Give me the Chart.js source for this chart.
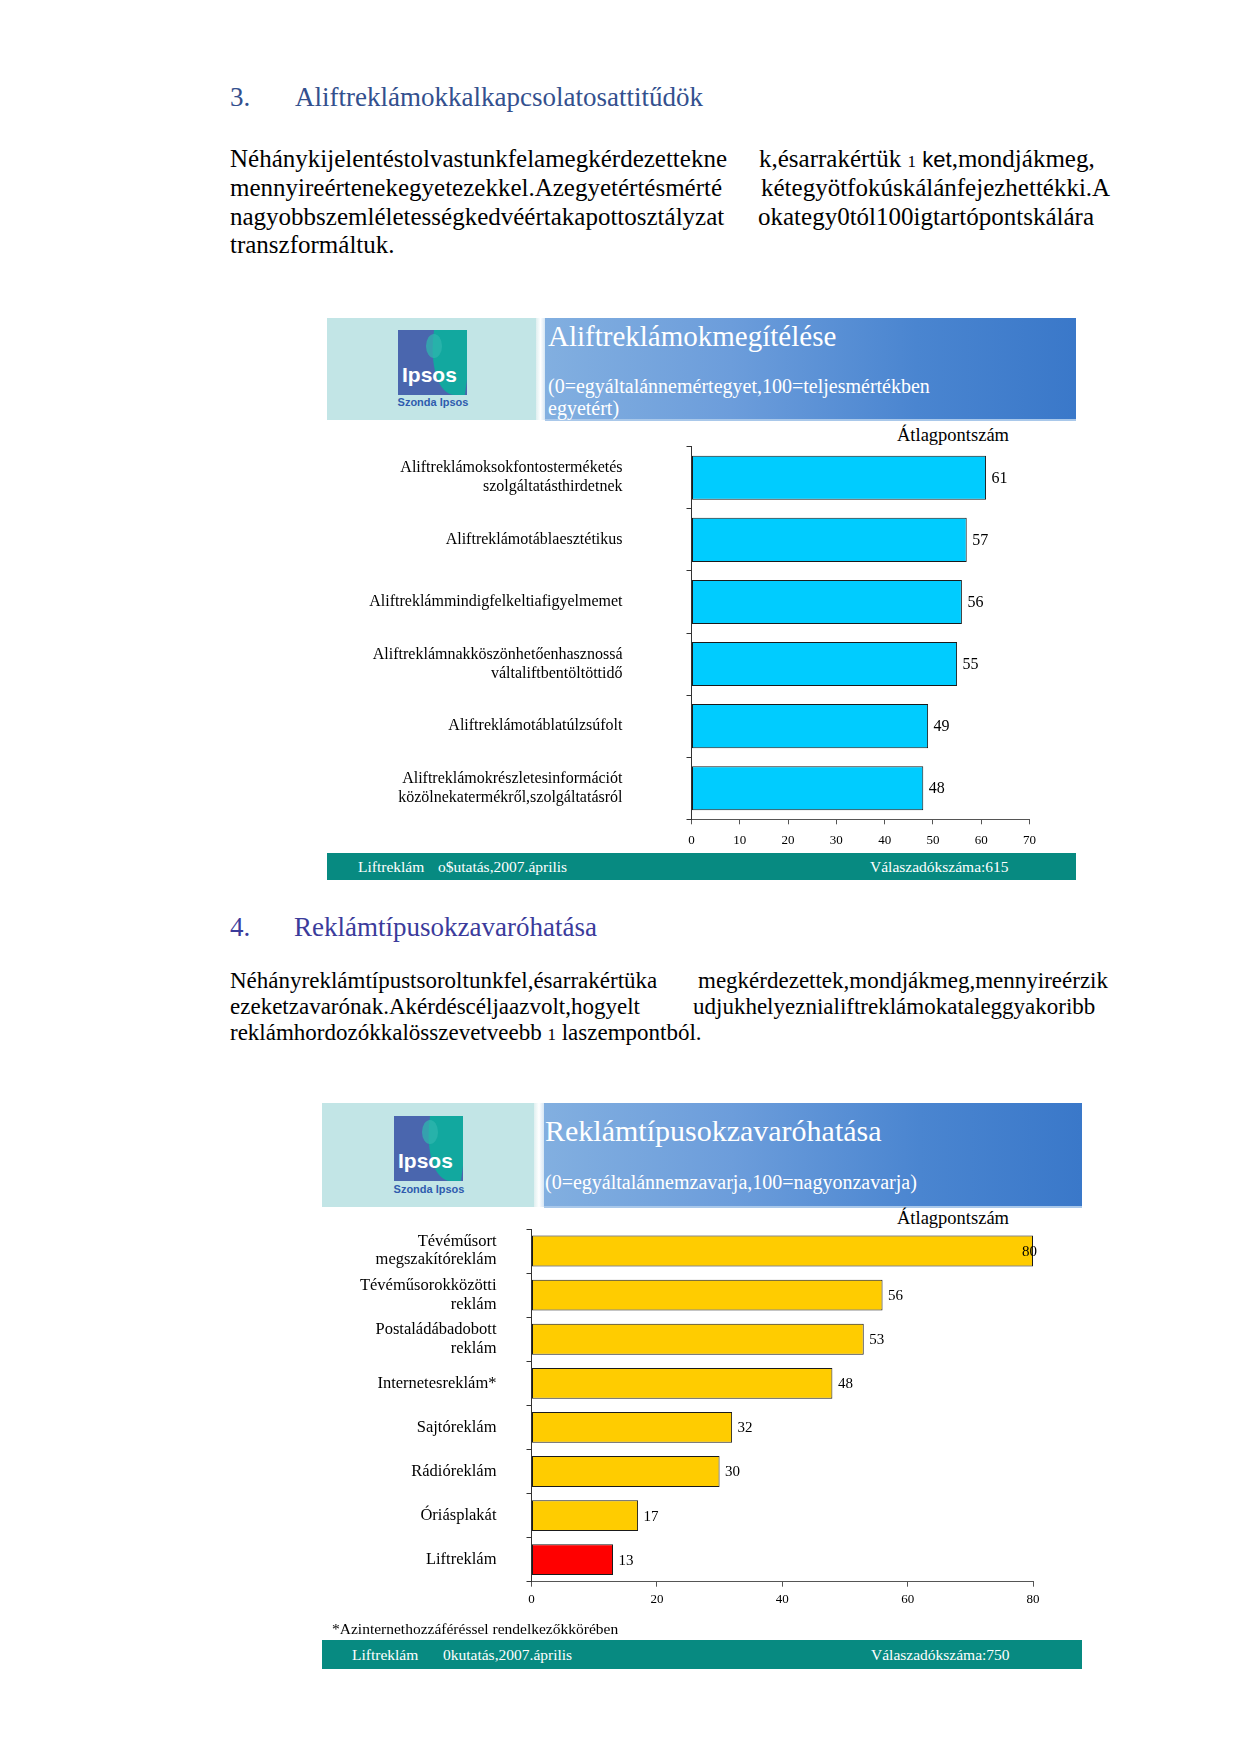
<!DOCTYPE html>
<html lang="hu">
<head>
<meta charset="utf-8">
<title>Liftreklám</title>
<script src="https://cdn.jsdelivr.net/npm/chart.js@4.4.1/dist/chart.umd.min.js"></script>
<style>
  html, body { margin: 0; padding: 0; background: #fff; }
  body { width: 1241px; height: 1754px; position: relative; overflow: hidden;
         font-family: "Liberation Serif", "Times New Roman", serif; color: #000; }
  .abs { position: absolute; white-space: nowrap; }
  .h { font-size: 27px; line-height: 32px; }
  .h1c { color: #33508e; }
  .h2c { color: #3b3b9b; }
  .txt { font-size: 25px; line-height: 28px; }
  .txt2 { font-size: 23px; line-height: 26px; }
  .small1 { font-size: 17px; }
  .sans { font-family: "Liberation Sans", Arial, sans-serif; font-size: 22px; }
  .logoPanel { background: #c2e5e6; }
  .bluePanel { background: linear-gradient(to right, #82afe0 0%, #6c9ddb 35%, #4a85d0 70%, #3a78c9 100%);
               border-bottom: 2px solid #a9c8ea; box-sizing: border-box; }
  .sep { background: linear-gradient(to right, #dfeff0, #ffffff, #d6e6f4); }
  .ttl { color: #fff; }
  .logo { position: absolute; width: 69px; height: 65px; overflow: hidden; background: #4a66ae; }
  .logo .teal { position: absolute; left: 36px; top: 0; width: 40px; height: 65px; background: #12a89f;
                border-bottom-left-radius: 30px 65px; transform: skewX(-8deg); transform-origin: top left; }
  .logo .head { position: absolute; left: 28px; top: 4px; width: 16px; height: 24px; border-radius: 50%;
                background: #2fb6ad; opacity: .75; }
  .logo .word { position: absolute; left: 4px; top: 33px; color: #fff; font: bold 21px "Liberation Sans", Arial, sans-serif; }
  .lsub { position: absolute; color: #2f5cae; font: bold 11px "Liberation Sans", Arial, sans-serif; width: 76px; text-align: center; }
  .foot { background: #078a81; }
  .ftxt { color: #fff; font-size: 15.5px; line-height: 22px; }
  canvas { position: absolute; }
</style>
</head>
<body>

<!-- section 3 -->
<div class="abs h h1c" style="left:230px;top:81px">3.</div>
<div class="abs h h1c" style="left:295px;top:81px">Aliftreklámokkalkapcsolatosattitűdök</div>

<div class="abs txt" style="left:230px;top:145px">Néhánykijelentéstolvastunkfelamegkérdezettekne</div>
<div class="abs txt" style="left:759px;top:145px">k,ésarrakértük <span class="small1">1</span> <span class="sans">ket</span>,mondjákmeg,</div>
<div class="abs txt" style="left:230px;top:174px">mennyireértenekegyetezekkel.Azegyetértésmérté</div>
<div class="abs txt" style="left:761px;top:174px">kétegyötfokúskálánfejezhettékki.A</div>
<div class="abs txt" style="left:230px;top:203px">nagyobbszemléletességkedvéértakapottosztályzat</div>
<div class="abs txt" style="left:758px;top:203px">okategy0tól100igtartópontskálára</div>
<div class="abs txt" style="left:230px;top:231px">transzformáltuk.</div>

<!-- chart 1 frame -->
<div class="abs logoPanel" style="left:327px;top:318px;width:209px;height:102px"></div>
<div class="abs sep" style="left:536px;top:318px;width:9px;height:102px"></div>
<div class="abs bluePanel" style="left:545px;top:318px;width:531px;height:103px"></div>
<div class="logo" style="left:398px;top:330px"><div class="teal"></div><div class="head"></div><div class="word">Ipsos</div></div>
<div class="lsub" style="left:395px;top:396px">Szonda Ipsos</div>
<div class="abs ttl" style="left:548px;top:318px;font-size:29px;line-height:36px">Aliftreklámokmegítélése</div>
<div class="abs ttl" style="left:548px;top:375px;font-size:20px;line-height:22px">(0=egyáltalánnemértegyet,100=teljesmértékben</div>
<div class="abs ttl" style="left:548px;top:397px;font-size:20px;line-height:22px">egyetért)</div>
<div class="abs" style="left:897px;top:424px;font-size:18.5px;line-height:22px">Átlagpontszám</div>

<canvas id="chart1" width="740" height="420" style="left:330px;top:436px;width:740px;height:420px"></canvas>

<div class="abs foot" style="left:327px;top:853px;width:749px;height:27px"></div>
<div class="abs ftxt" style="left:358px;top:856px">Liftreklám</div>
<div class="abs ftxt" style="left:438px;top:856px">o$utatás,2007.április</div>
<div class="abs ftxt" style="left:870px;top:856px">Válaszadókszáma:615</div>

<!-- section 4 -->
<div class="abs h h2c" style="left:230px;top:911px">4.</div>
<div class="abs h h2c" style="left:294px;top:911px">Reklámtípusokzavaróhatása</div>

<div class="abs txt2" style="left:230px;top:968px">Néhányreklámtípustsoroltunkfel,ésarrakértüka</div>
<div class="abs txt2" style="left:698px;top:968px">megkérdezettek,mondjákmeg,mennyireérzik</div>
<div class="abs txt2" style="left:230px;top:994px">ezeketzavarónak.Akérdéscéljaazvolt,hogyelt</div>
<div class="abs txt2" style="left:693px;top:994px">udjukhelyeznialiftreklámokataleggyakoribb</div>
<div class="abs txt2" style="left:230px;top:1020px">reklámhordozókkalösszevetveebb <span class="small1">1</span> laszempontból.</div>

<!-- chart 2 frame -->
<div class="abs logoPanel" style="left:322px;top:1103px;width:212px;height:104px"></div>
<div class="abs sep" style="left:534px;top:1103px;width:10px;height:104px"></div>
<div class="abs bluePanel" style="left:544px;top:1103px;width:538px;height:105px"></div>
<div class="logo" style="left:394px;top:1116px"><div class="teal"></div><div class="head"></div><div class="word">Ipsos</div></div>
<div class="lsub" style="left:391px;top:1183px">Szonda Ipsos</div>
<div class="abs ttl" style="left:545px;top:1113px;font-size:30px;line-height:36px">Reklámtípusokzavaróhatása</div>
<div class="abs ttl" style="left:545px;top:1170px;font-size:20px;line-height:24px">(0=egyáltalánnemzavarja,100=nagyonzavarja)</div>
<div class="abs" style="left:897px;top:1207px;font-size:18.5px;line-height:22px">Átlagpontszám</div>

<canvas id="chart2" width="760" height="410" style="left:325px;top:1215px;width:760px;height:410px"></canvas>

<div class="abs" style="left:332px;top:1619px;font-size:15.5px;line-height:20px">*Azinternethozzáféréssel rendelkezőkkörében</div>
<div class="abs foot" style="left:322px;top:1640px;width:760px;height:29px"></div>
<div class="abs ftxt" style="left:352px;top:1644px">Liftreklám</div>
<div class="abs ftxt" style="left:443px;top:1644px">0kutatás,2007.április</div>
<div class="abs ftxt" style="left:871px;top:1644px">Válaszadókszáma:750</div>

<script>
// chart 1: A liftreklámok megítélése
var statements = [
    ["Aliftreklámoksokfontosterméketés", "szolgáltatásthirdetnek"],
    "Aliftreklámotáblaesztétikus",
    "Aliftreklámmindigfelkeltiafigyelmemet",
    ["Aliftreklámnakköszönhetőenhasznossá", "váltaliftbentöltöttidő"],
    "Aliftreklámotáblatúlzsúfolt",
    ["Aliftreklámokrészletesinformációt", "közölnekatermékről,szolgáltatásról"]
];
var statementScores = [61, 57, 56, 55, 49, 48];
var ticks1 = [0, 10, 20, 30, 40, 50, 60, 70];

// chart 2: Reklámtípusok zavaró hatása
var adTypes = [
    ["Tévéműsort", "megszakítóreklám"],
    ["Tévéműsorokközötti", "reklám"],
    ["Postaládábadobott", "reklám"],
    "Internetesreklám*",
    "Sajtóreklám",
    "Rádióreklám",
    "Óriásplakát",
    "Liftreklám"
];
var adScores = [80, 56, 53, 48, 32, 30, 17, 13];
var ticks2 = [0, 20, 40, 60, 80];
var highlighted = "Liftreklám";

var serif = "'Liberation Serif', 'Times New Roman', serif";

// value labels next to the bar ends, kept near the plot area
var valueLabels = {
    id: 'valueLabels',
    afterDatasetsDraw: function(chart, args, opts) {
        var ctx = chart.ctx;
        var area = chart.chartArea;
        ctx.save();
        ctx.font = opts.size + "px " + serif;
        ctx.fillStyle = '#000';
        ctx.textBaseline = 'middle';
        ctx.textAlign = 'left';
        chart.getDatasetMeta(0).data.forEach(function(bar, i) {
            var text = String(chart.data.datasets[0].data[i]);
            var w = ctx.measureText(text).width;
            var x = bar.x + opts.offset;
            if (x + w > area.right + opts.overflow) {
                x = area.right + opts.overflow - w;
            }
            ctx.fillText(text, x, bar.y + 1);
        });
        ctx.restore();
    }
};

function makeOptions(cfg) {
    return {
        indexAxis: 'y',
        responsive: false,
        animation: false,
        layout: { padding: cfg.padding },
        plugins: {
            legend: { display: false },
            tooltip: { enabled: false },
            valueLabels: { size: cfg.valueSize, offset: 5.5, overflow: 4 }
        },
        scales: {
            x: {
                type: 'linear',
                min: 0,
                max: cfg.max,
                grid: { drawOnChartArea: false, drawTicks: true, tickLength: 5, color: '#555' },
                border: { color: '#555', width: 1 },
                ticks: { font: { family: serif, size: 13 }, color: '#000', padding: cfg.xPad, maxRotation: 0 },
                afterBuildTicks: function(s) {
                    s.ticks = cfg.ticks.map(function(v) { return { value: v }; });
                },
                afterFit: function(s) {
                    s.height = 30;
                    s.paddingLeft = 0;
                    s.paddingRight = 0;
                }
            },
            y: {
                type: 'category',
                offset: true,
                grid: { offset: true, drawOnChartArea: false, drawTicks: true, tickLength: 5, color: '#333' },
                border: { color: '#333', width: 1 },
                ticks: {
                    font: { family: serif, size: cfg.labelSize, lineHeight: cfg.labelLH },
                    color: '#000',
                    padding: cfg.yPad,
                    crossAlign: 'near',
                    autoSkip: false
                },
                afterFit: function(s) {
                    s.width = cfg.yWidth;
                    s.paddingTop = 0;
                    s.paddingBottom = 0;
                }
            }
        }
    };
}

new Chart(document.getElementById('chart1'), {
    type: 'bar',
    data: {
        labels: statements,
        datasets: [{
            data: statementScores,
            backgroundColor: '#00ccff',
            borderColor: '#1a1a1a',
            borderWidth: 1,
            borderSkipped: false,
            categoryPercentage: 1,
            barPercentage: 0.71
        }]
    },
    options: makeOptions({
        max: 70, ticks: ticks1,
        padding: { top: 10.7, right: 40.5, bottom: 6.7, left: 0 },
        yWidth: 361.5, yPad: 64, xPad: 8,
        labelSize: 16, labelLH: 1.19, valueSize: 16
    }),
    plugins: [valueLabels]
});

new Chart(document.getElementById('chart2'), {
    type: 'bar',
    data: {
        labels: adTypes,
        datasets: [{
            data: adScores,
            backgroundColor: adTypes.map(function(t) { return t === highlighted ? '#ff0000' : '#ffcc00'; }),
            borderColor: '#1a1a1a',
            borderWidth: 1,
            borderSkipped: false,
            categoryPercentage: 1,
            barPercentage: 0.70
        }]
    },
    options: makeOptions({
        max: 80, ticks: ticks2,
        padding: { top: 14, right: 52, bottom: 13.3, left: 0 },
        yWidth: 206.5, yPad: 30, xPad: 5,
        labelSize: 16.5, labelLH: 1.1, valueSize: 15
    }),
    plugins: [valueLabels]
});
</script>
</body>
</html>
